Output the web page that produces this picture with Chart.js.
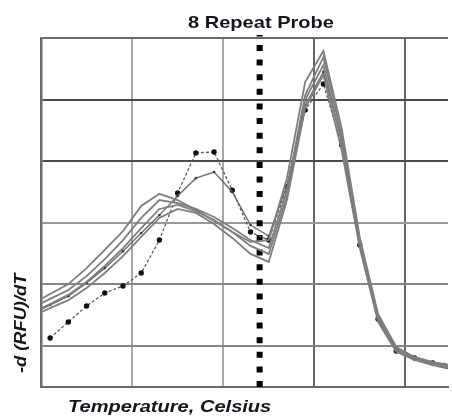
<!DOCTYPE html>
<html>
<head>
<meta charset="utf-8">
<title>8 Repeat Probe</title>
<script src="https://cdn.jsdelivr.net/npm/chart.js@4/dist/chart.umd.min.js"></script>
<style>
  html, body { margin: 0; padding: 0; background: #ffffff; }
  #wrap { width: 452px; height: 417px; }
</style>
</head>
<body>
<div id="wrap"><canvas id="melt" width="452" height="417"></canvas></div>
<script>
// Melt-curve readings, one reading per degree
const temperatures = [44.5, 45.5, 46.5, 47.5, 48.5, 49.5, 50.5, 51.5, 52.5, 53.5, 54.5, 55.5, 56.5,
                      57.5, 58.5, 59.5, 60.5, 61.5, 62.5, 63.5, 64.5, 65.5, 66.5, 67.5];

// -d(RFU)/dT for each well
const wellDots = [null, 2.6, 7.8, 13.0, 17.2, 19.5, 23.7, 34.4, 49.7, 62.7, 63.0, 50.6, 37.0,
                  34.4, 51.6, 76.6, 85.1, 65.3, 32.8, 8.8, -1.6, -3.9, -5.5, -5.8];
const wellSmallDots = [10.4, 13.3, 16.2, 20.5, 25.3, 30.8, 36.7, 42.5, 48.7, 54.5, 56.5, 50.0, 39.3,
                       35.7, 52.3, 78.2, 89.0, 66.9, 32.8, 9.7, -0.6, -3.6, -5.2, -6.2];
const wellA = [13.6, 16.9, 20.1, 25.3, 31.2, 37.3, 45.5, 49.4, 47.4, 44.2, 40.6, 37.0, 33.8,
               34.4, 54.5, 85.7, 95.8, 70.8, 35.1, 10.4, -0.3, -3.6, -5.2, -6.5];
const wellB = [12.3, 15.3, 18.2, 22.7, 28.2, 34.4, 41.6, 47.4, 46.4, 44.5, 41.9, 38.3, 34.4,
               31.8, 50.6, 81.5, 93.8, 68.5, 34.4, 9.7, -0.6, -3.9, -5.5, -6.8];
const wellC = [10.7, 13.6, 16.6, 20.8, 26.0, 31.8, 38.3, 44.5, 45.8, 43.8, 40.9, 37.0, 32.5,
               29.9, 48.7, 79.9, 91.2, 66.2, 33.4, 8.8, -1.3, -4.2, -5.8, -7.1];
const wellD = [9.7, 12.3, 14.9, 18.8, 23.7, 29.2, 35.4, 41.6, 44.5, 43.2, 39.6, 35.1, 29.9,
               27.3, 47.4, 77.3, 88.0, 63.6, 31.8, 7.8, -1.9, -4.5, -6.2, -7.5];

// Probe melting temperature marker
const probeTemp = 57.0;

// Grid positions
const tempGrid = [50, 55, 60, 65];
const valueGrid = [0, 20, 40, 60, 80, 100];
const tempRange = [45, 67.34];
const valueRange = [-13.3, 100];

const pts = ys => temperatures.map((t, i) => ({ x: t, y: ys[i] }));

const grayLine = (ys) => ({
  data: pts(ys),
  borderColor: '#7e7e7e',
  borderWidth: 1.8,
  pointRadius: 0,
  tension: 0
});

const datasets = [
  grayLine(wellA),
  grayLine(wellB),
  grayLine(wellC),
  grayLine(wellD),
  {
    data: pts(wellSmallDots),
    borderColor: '#6e6e6e',
    borderWidth: 1.4,
    pointRadius: 1.3,
    pointBackgroundColor: '#3a3a3a',
    pointBorderWidth: 0,
    tension: 0
  },
  {
    data: pts(wellDots),
    borderColor: '#5c5c5c',
    borderWidth: 1.3,
    borderDash: [3, 2],
    pointRadius: 2.7,
    pointBackgroundColor: '#111111',
    pointBorderWidth: 0,
    tension: 0
  },
  {
    // vertical dotted marker at the probe Tm
    data: [{ x: probeTemp, y: 100.97 }, { x: probeTemp, y: valueRange[0] }],
    borderColor: '#000000',
    borderWidth: 6,
    borderDash: [6, 8.61],
    borderDashOffset: 4.61,
    borderCapStyle: 'butt',
    pointRadius: 0,
    clip: false
  }
];

function drawStretched(ctx, text, x, y, sx, align, angle) {
  ctx.save();
  ctx.translate(x, y);
  if (angle) ctx.rotate(angle);
  ctx.scale(sx, 1);
  ctx.textAlign = align;
  ctx.fillText(text, 0, 0);
  ctx.restore();
}

const chartText = {
  id: 'chartText',
  afterDraw(chart) {
    const { ctx, chartArea: a } = chart;
    ctx.save();
    ctx.fillStyle = '#151520';
    ctx.textBaseline = 'alphabetic';
    ctx.font = 'bold 17px "Liberation Sans", Arial, sans-serif';
    drawStretched(ctx, '8 Repeat Probe', a.left + 220, 28, 1.18, 'center', 0);
    ctx.font = 'italic bold 17px "Liberation Sans", Arial, sans-serif';
    drawStretched(ctx, 'Temperature, Celsius', a.left + 27, a.bottom + 25, 1.18, 'left', 0);
    ctx.font = 'italic bold 16px "Liberation Sans", Arial, sans-serif';
    drawStretched(ctx, '-d (RFU)/dT', 26, 373, 1.14, 'left', -Math.PI / 2);
    ctx.restore();
  }
};

const yGridColor = { 100: '#6a6a6a', 80: '#4a4a4a', 60: '#4a4a4a', 40: '#9a9a9a', 20: '#858585', 0: '#858585' };
const xGridColor = { 50: '#a8a8a8', 55: '#a8a8a8', 60: '#666666', 65: '#666666' };

new Chart(document.getElementById('melt'), {
  type: 'line',
  data: { datasets },
  options: {
    responsive: false,
    animation: false,
    devicePixelRatio: 1,
    layout: { padding: { left: 41, top: 38, right: 0, bottom: 30 } },
    plugins: { legend: { display: false }, tooltip: { enabled: false }, title: { display: false } },
    elements: { line: { fill: false } },
    scales: {
      x: {
        type: 'linear',
        min: tempRange[0],
        max: tempRange[1],
        afterBuildTicks: s => { s.ticks = tempGrid.map(v => ({ value: v })); },
        afterFit: s => { s.height = 0; },
        ticks: { display: false },
        grid: {
          drawTicks: false,
          lineWidth: 2,
          color: c => xGridColor[c.tick && c.tick.value] || '#8a8a8a'
        },
        border: { display: true, color: '#6a6a6a', width: 2 }
      },
      y: {
        type: 'linear',
        min: valueRange[0],
        max: valueRange[1],
        afterBuildTicks: s => { s.ticks = valueGrid.map(v => ({ value: v })); },
        afterFit: s => { s.width = 0; },
        ticks: { display: false },
        grid: {
          drawTicks: false,
          lineWidth: 2,
          color: c => yGridColor[c.tick && c.tick.value] || '#777777'
        },
        border: { display: true, color: '#6a6a6a', width: 2.5 }
      }
    }
  },
  plugins: [chartText]
});
</script>
</body>
</html>
